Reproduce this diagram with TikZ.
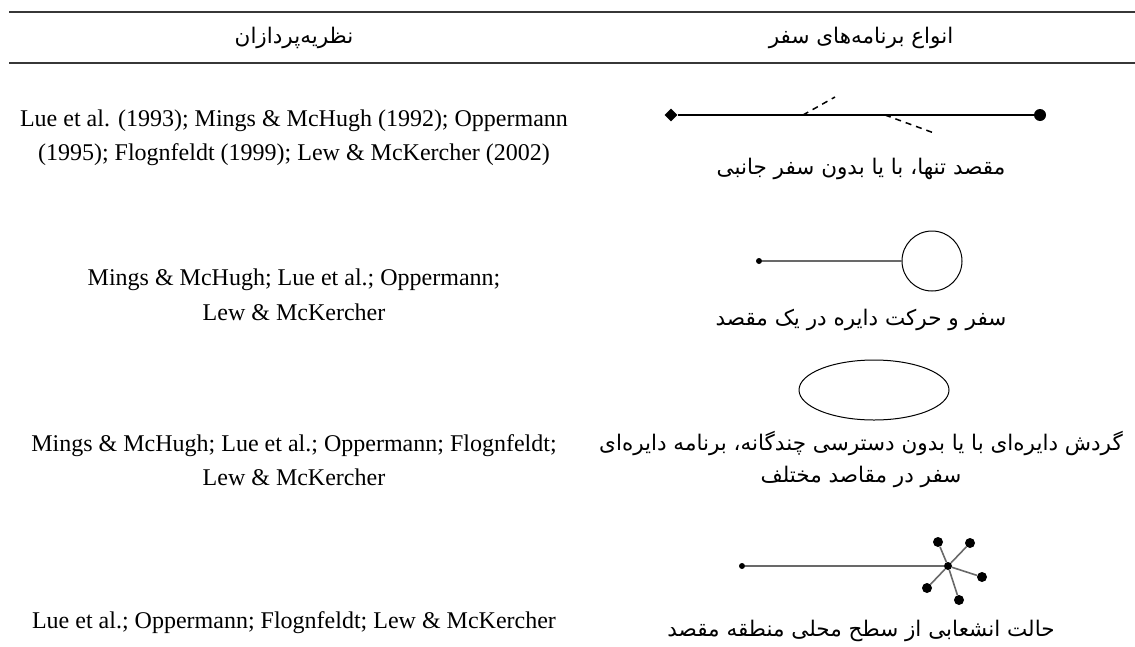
\documentclass[tikz,border=0pt]{standalone}
\usepackage{fontspec}
\setmainfont{Liberation Serif}
\newfontfamily\fafont[Script=Arabic]{DejaVu Sans}
\TeXXeTstate=1
\usetikzlibrary{shapes.geometric}
\definecolor{rulegray}{RGB}{55,55,55}
\definecolor{linegray}{RGB}{105,105,105}

\begin{document}
\begin{tikzpicture}[x=1pt, y=-1pt,
    latin/.style={font=\fontsize{24}{34.5}\selectfont, align=center, inner sep=0},
    farsi/.style={font=\fafont\fontsize{21.5}{32}\selectfont, align=center, inner sep=0},
    dot/.style={circle, fill=black, inner sep=0, minimum size=#1},
    dot/.default=6pt]
  \useasboundingbox (0,0) rectangle (1135,646);

  % table rules and header
  \draw[rulegray, line width=1.3pt] (9,12) -- (1135,12);
  \draw[rulegray, line width=1.3pt] (9,63) -- (1135,63);
  \node[farsi] (headtheory) at (294,38) {\beginR نظریه‌پردازان\endR};
  \node[farsi] (headtypes) at (861,38) {\beginR انواع برنامه‌های سفر\endR};

  % row 1
  \node[latin] (src1) at (294,138) {Lue et al. (1993); Mings \& McHugh (1992); Oppermann\\(1995); Flognfeldt (1999); Lew \& McKercher (2002)};
  \node[diamond, fill=black, inner sep=0, minimum size=13pt] (home1) at (671,115) {};
  \node[dot=12pt] (dest1) at (1040,115) {};
  \draw[line width=2pt] (home1) -- (dest1);
  \coordinate (side1a) at (803,115);
  \coordinate (side1b) at (885,115);
  \coordinate (off1a) at (835,97);
  \coordinate (off1b) at (934,133);
  \draw[line width=1.5pt, dash pattern=on 6pt off 5pt] (side1a) -- (off1a);
  \draw[line width=1.5pt, dash pattern=on 6pt off 5pt] (side1b) -- (off1b);
  \node[farsi] (type1) at (861,169) {\beginR مقصد تنها، با یا بدون سفر جانبی\endR};

  % row 2
  \node[latin] (src2) at (294,295) {Mings \& McHugh; Lue et al.; Oppermann;\\Lew \& McKercher};
  \node[dot] (home2) at (759,261) {};
  \node[circle, draw, line width=1pt, minimum size=60pt, inner sep=0] (loop2) at (932,261) {};
  \draw[linegray, line width=2pt] (home2) -- (loop2);
  \node[farsi] (type2) at (861,320) {\beginR سفر و حرکت دایره در یک مقصد\endR};

  % row 3
  \node[latin] (src3) at (294,460) {Mings \& McHugh; Lue et al.; Oppermann; Flognfeldt;\\Lew \& McKercher};
  \node[ellipse, draw, line width=1pt, minimum width=150pt, minimum height=60pt, inner sep=0] (tour3) at (874,390) {};
  \node[farsi] (type3) at (861,459) {\beginR گردش دایره‌ای با یا بدون دسترسی چندگانه، برنامه دایره‌ای\endR\\\beginR سفر در مقاصد مختلف\endR};

  % row 4
  \node[latin] (src4) at (294,623) {Lue et al.; Oppermann; Flognfeldt; Lew \& McKercher};
  \node[dot] (home4) at (742,566) {};
  \node[dot=8pt] (hub4) at (948,566) {};
  \draw[linegray, line width=2pt] (home4) -- (hub4);
  \foreach \p [count=\k] in {(938,542),(970,543),(982,577),(927,588),(959,600)} {
    \node[dot=10pt] (leaf\k) at \p {};
    \draw[linegray, line width=1.6pt] (hub4) -- (leaf\k);
  }
  \node[farsi] (type4) at (861,631) {\beginR حالت انشعابی از سطح محلی منطقه مقصد\endR};
\end{tikzpicture}
\end{document}
